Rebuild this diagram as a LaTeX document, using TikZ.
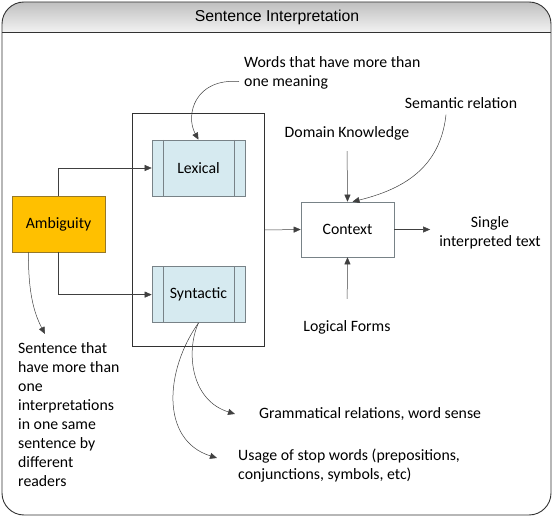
\documentclass[tikz,border=0pt]{standalone}
\usepackage{fontspec}
\setmainfont{Carlito}
\newfontfamily\titlefont{Liberation Sans}
\usepackage{tikz}
\usetikzlibrary{arrows.meta, positioning, calc}
\definecolor{ambfill}{RGB}{255, 192, 0}
\definecolor{ambline}{RGB}{150, 120, 40}
\definecolor{procfill}{RGB}{214, 234, 240}
\definecolor{procline}{RGB}{120, 130, 135}
\definecolor{frameline}{RGB}{50, 50, 50}

\begin{document}
\begin{tikzpicture}[
    x=1pt, y=-1pt,
    node distance=70pt and 37pt,
    proc/.style={
        rectangle, draw=procline, fill=procfill, line width=0.6pt,
        minimum width=93pt, minimum height=56pt, inner sep=0pt, font=\fontsize{15.8}{19}\selectfont,
        path picture={
            \draw[procline] ([xshift=11pt]path picture bounding box.north west) -- ([xshift=11pt]path picture bounding box.south west);
            \draw[procline] ([xshift=-11pt]path picture bounding box.north east) -- ([xshift=-11pt]path picture bounding box.south east);
        }
    },
    amb/.style={
        rectangle, draw=ambline, fill=ambfill, line width=0.6pt,
        minimum width=93pt, minimum height=56pt, inner sep=0pt, font=\fontsize{15.8}{19}\selectfont
    },
    ctxbox/.style={
        rectangle, draw=procline, fill=white, line width=0.6pt,
        minimum width=93pt, minimum height=55pt, inner sep=0pt, font=\fontsize{15.8}{19}\selectfont
    },
    group/.style={
        rectangle, draw=frameline, line width=0.5pt, minimum width=132pt, minimum height=233pt, inner sep=0pt
    },
    txt/.style={
        font=\fontsize{15.8}{19}\selectfont, inner sep=0pt, align=left
    },
    conn/.style={
        -{Triangle[length=7pt, width=6pt]}, line width=0.5pt, draw=black!75
    }
]
\useasboundingbox (0,0) rectangle (554,518);

% Frame with title band
\begin{scope}
    \clip[rounded corners=22pt] (2,2) rectangle (551,515);
    \shade[top color=black!25, bottom color=black!5] (2,2) rectangle (551,32);
\end{scope}
\draw[frameline, line width=0.9pt, rounded corners=22pt] (2,2) rectangle (551,515);
\draw[frameline, line width=0.6pt] (2,32) -- (551,32);
\node[font=\titlefont\fontsize{15.8}{18}\selectfont] (title) at (277,17) {Sentence Interpretation};

% Group with Lexical / Syntactic
\node[group] (grp) at (198,230) {};
\node[proc] (lex) at (198.5,168) {Lexical};
\node[proc, below=70pt of lex] (syn) {Syntactic};

% Ambiguity
\node[amb] (amb) at (58.5,224) {Ambiguity};

% Context
\node[ctxbox] (ctx) at (347.5,229.5) {Context};

% Labels
\node[txt, anchor=north west] (words) at (244,56) {Words that have more than\\one meaning};
\node[txt] (sem) at (461,103) {Semantic relation};
\node[txt] (dom) at (347,133) {Domain Knowledge};
\node[txt] (logf) at (347,327) {Logical Forms};
\node[txt, align=center] (single) at (490,233) {Single\\interpreted text};
\node[txt, anchor=north west] (sent) at (18,342) {Sentence that\\have more than\\one\\interpretations\\in one same\\sentence by\\different\\readers};
\node[txt, anchor=west] (gram) at (259,414) {Grammatical relations, word sense};
\node[txt, anchor=north west] (usage) at (238,449) {Usage of stop words (prepositions,\\conjunctions, symbols, etc)};

% Relations
\draw[conn] (amb.north) |- (lex.west);
\draw[conn] (amb.south) |- (syn.west);
\draw[conn] (grp.east) -- (ctx.west);
\draw[conn] (ctx.east) -- ([xshift=-9pt]single.west |- ctx.east);
\draw[conn, shorten <=11pt] (dom.south) -- (ctx.north);
\draw[conn, shorten <=21pt] (logf.north) -- (ctx.south);
\draw[conn] ([xshift=-15pt, yshift=-6pt]sem.south) .. controls (440,170) and (400,190) .. ([xshift=5pt]ctx.north);
\draw[conn] ([xshift=-5pt, yshift=-9pt]words.west) .. controls (195,78) and (185,115) .. (lex.north);
\draw[conn] ([xshift=-30pt]amb.south) .. controls (28,295) and (35,315) .. ([xshift=27pt, yshift=8pt]sent.north west);
\draw[conn] (syn.south) .. controls (186,350) and (190,400) .. ([xshift=-24pt]gram.west);
\draw[conn] (syn.south) .. controls (165,370) and (160,440) .. ([xshift=-21pt, yshift=-9pt]usage.north west);

\end{tikzpicture}
\end{document}
